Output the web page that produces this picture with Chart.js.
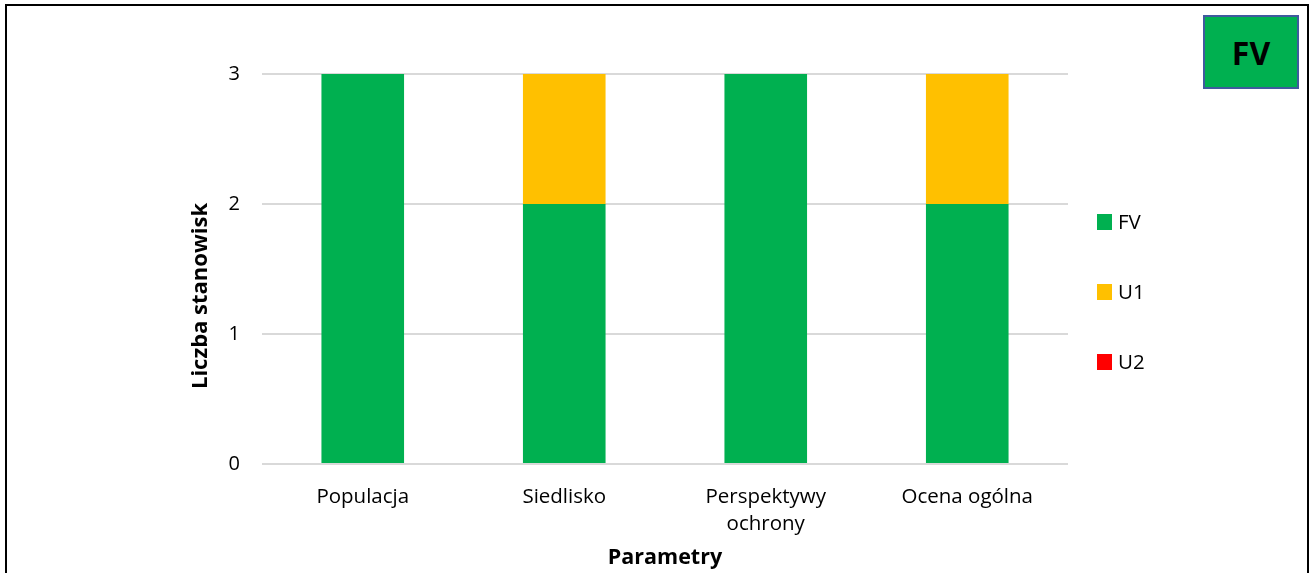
<!DOCTYPE html>
<html>
<head>
<meta charset="utf-8">
<script src="https://cdn.jsdelivr.net/npm/chart.js@4"></script>
<style>
    body { margin: 0; background: #fff; }
    #wrap { position: relative; width: 1313px; height: 573px; overflow: hidden; }
    #frame { position: absolute; left: 5px; top: 4px; width: 1300px; height: 600px; border: 2px solid #000; }
    #badge {
        position: absolute; left: 1203px; top: 15px; width: 92px; height: 70px;
        background: #00b050; border: 2px solid #3f5a9e;
        font: bold 32px 'Open Sans', sans-serif; color: #000;
        display: flex; align-items: center; justify-content: center;
    }
    canvas { position: absolute; left: 0; top: 0; }
</style>
</head>
<body>
<div id="wrap">
    <div id="frame"></div>
    <canvas id="chart" width="1313" height="573"></canvas>
    <div id="badge">FV</div>
</div>
<script>
// Parametry oceny stanu stanowisk
const categories = ['Populacja', 'Siedlisko', ['Perspektywy', 'ochrony'], 'Ocena ogólna'];
const fvValues = [3, 2, 3, 2];
const u1Values = [0, 1, 0, 1];
const u2Values = [0, 0, 0, 0];
const yTicks = [0, 1, 2, 3];

const yTitle = 'Liczba stanowisk';
const xTitle = 'Parametry';
const FONT = "'Open Sans', sans-serif";

// legend drawn on the right, from the datasets
const sideLegend = {
    id: 'sideLegend',
    afterDraw(chart) {
        const ctx = chart.ctx;
        const x = 1097;
        ctx.save();
        ctx.font = '20.5px ' + FONT;
        ctx.textBaseline = 'middle';
        chart.data.datasets.forEach((ds, i) => {
            const y = 222 + i * 70;
            ctx.fillStyle = ds.backgroundColor;
            ctx.fillRect(x, y - 8, 15, 16);
            ctx.fillStyle = '#000';
            ctx.fillText(ds.label, x + 21, y + 1);
        });
        ctx.restore();
    }
};

// y-axis title, placed like in the Excel original
const yTitlePlugin = {
    id: 'yTitlePlugin',
    afterDraw(chart) {
        const ctx = chart.ctx;
        ctx.save();
        ctx.translate(201, 296);
        ctx.rotate(-Math.PI / 2);
        ctx.font = 'bold 22px ' + FONT;
        ctx.fillStyle = '#000';
        ctx.textAlign = 'center';
        ctx.textBaseline = 'middle';
        ctx.fillText(yTitle, 0, 0);
        ctx.restore();
    }
};

const ctx = document.getElementById('chart').getContext('2d');
new Chart(ctx, {
    type: 'bar',
    data: {
        labels: categories,
        datasets: [
            { label: 'FV', data: fvValues, backgroundColor: '#00b050' },
            { label: 'U1', data: u1Values, backgroundColor: '#ffc000' },
            { label: 'U2', data: u2Values, backgroundColor: '#ff0000' }
        ]
    },
    options: {
        responsive: false,
        animation: false,
        events: [],
        layout: { padding: { left: 0, top: 74, right: 245, bottom: 0 } },
        datasets: { bar: { barPercentage: 0.41, categoryPercentage: 1 } },
        plugins: {
            legend: { display: false },
            tooltip: { enabled: false }
        },
        scales: {
            x: {
                stacked: true,
                grid: { display: false },
                border: { display: false },
                ticks: { color: '#000', padding: 12, maxRotation: 0, font: { family: FONT, size: 20.5, lineHeight: 1.3 } },
                title: { display: true, text: xTitle, color: '#000', padding: { top: 0, bottom: 2 }, font: { family: FONT, size: 21.5, weight: 'bold' } },
                afterFit: s => { s.height = 109; }
            },
            y: {
                stacked: true,
                min: 0,
                max: 3,
                afterBuildTicks: s => { s.ticks = yTicks.map(v => ({ value: v })); },
                grid: { color: '#d9d9d9', lineWidth: 2, drawTicks: false },
                border: { display: false },
                ticks: { color: '#000', padding: 22, font: { family: FONT, size: 20 } },
                afterFit: s => { s.width = 262; }
            }
        }
    },
    plugins: [sideLegend, yTitlePlugin]
});
</script>
</body>
</html>
